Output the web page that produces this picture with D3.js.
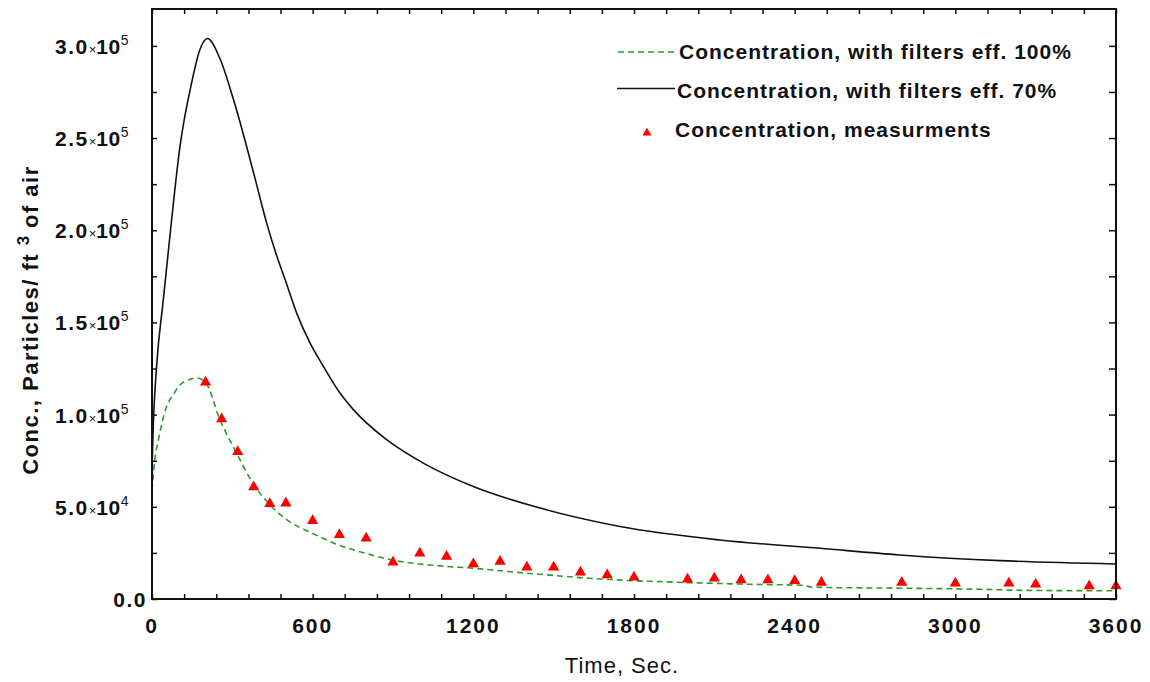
<!DOCTYPE html>
<html>
<head>
<meta charset="utf-8">
<script src="https://cdn.jsdelivr.net/npm/d3@7"></script>
<style>
  body { margin: 0; background: #fff; }
  svg { display: block; }
  text { font-family: "Liberation Sans", Arial, sans-serif; fill: #111; }
</style>
</head>
<body>
<svg id="svg" width="1150" height="682"></svg>
<script>
// Data ==================================================================
// measurements (red triangles)
var measTime = [200, 260, 320, 380, 440, 500, 600, 700, 800, 900, 1000, 1100, 1200, 1300, 1400,
                1500, 1600, 1700, 1800, 2000, 2100, 2200, 2300, 2400, 2500, 2800, 3000, 3200, 3300, 3500, 3600];
var measConc = [117500, 97600, 79900, 60700, 51600, 52000, 42400, 34800, 33000, 19900, 24800, 23000, 19000, 20300, 17200,
                17200, 14500, 13000, 11800, 10700, 11200, 10300, 10300, 9900, 8900, 8900, 8500, 8500, 8000, 7100, 7100];

// model, filters eff. 100% (green dashed)
var effTime100 = [0, 10, 24, 40, 55, 80, 105, 135, 167, 200, 254, 316, 378, 441, 503, 598, 697, 797, 896, 1000,
                  1100, 1198, 1300, 1400, 1500, 1598, 1700, 1797, 1900, 1997, 2100, 2196, 2300, 2395, 2440, 2460,
                  2843, 3092, 3300, 3600];
var effConc100 = [59000, 75000, 86400, 97000, 104500, 111000, 116200, 118800, 119900, 117500, 97200, 79100, 62500, 51000, 43000, 35700, 29300, 24800, 21200, 19000,
                  17700, 16700, 15300, 14000, 12800, 11600, 10700, 9900, 9400, 8900, 8500, 8100, 7800, 7600, 7400, 6400,
                  5800, 5300, 4600, 4500];

// model, filters eff. 70% (black solid)
var effTime70 = [0, 5, 17, 42, 67, 105, 148, 179, 207, 254, 304, 385, 428, 466, 497, 540, 590, 640, 702, 752,
                 876, 1013, 1200, 1449, 1748, 2121, 2495, 2793, 3167, 3600];
var effConc70 = [70000, 95000, 126000, 162000, 197000, 246000, 280000, 298000, 304000, 293000, 271000, 228000, 204000, 186000, 173300, 155200, 138900, 126200, 111700, 102700,
                 86400, 73700, 61000, 49300, 39300, 32000, 27500, 23900, 20800, 19000];

var xTicks = [0, 600, 1200, 1800, 2400, 3000, 3600];
var yTicks = [0, 50000, 100000, 150000, 200000, 250000, 300000];
var yTickLabels = [["0.0", ""], ["5.0", "4"], ["1.0", "5"], ["1.5", "5"], ["2.0", "5"], ["2.5", "5"], ["3.0", "5"]];

var legendNames = ["Concentration, with filters eff. 100%",
                   "Concentration, with filters eff. 70%",
                   "Concentration, measurments"];

// Layout ================================================================
var padL = 152, padR = 1116, padT = 9, padB = 599;

var svg = d3.select("#svg");

var xScale = d3.scaleLinear().domain([0, 3600]).range([padL, padR]);
var yScale = d3.scaleLinear().domain([0, 320000]).range([padB, padT]);

function pairs(ts, vs) {
    var out = [];
    for (var i = 0; i < ts.length; i++) {
        out.push({ x: ts[i], y: vs[i] });
    }
    return out;
}

var line = d3.line()
    .x(function(d) { return xScale(d.x); })
    .y(function(d) { return yScale(d.y); })
    .curve(d3.curveMonotoneX);

// Curves ================================================================
svg.append("path")
    .attr("d", line(pairs(effTime70, effConc70)))
    .attr("fill", "none")
    .attr("stroke", "#111")
    .attr("stroke-width", 1.6);

svg.append("path")
    .attr("d", line(pairs(effTime100, effConc100)))
    .attr("fill", "none")
    .attr("stroke", "#2a9a2a")
    .attr("stroke-width", 1.6)
    .attr("stroke-dasharray", "6,4");

var tri = d3.symbol().type(d3.symbolTriangle).size(55);
svg.selectAll("path.meas")
    .data(pairs(measTime, measConc))
    .enter()
    .append("path")
    .attr("class", "meas")
    .attr("d", tri)
    .attr("fill", "#ff0000")
    .attr("transform", function(d) { return "translate(" + xScale(d.x) + "," + yScale(d.y) + ")"; });

// Axes (ticks on all four sides, pointing in) ===========================
var xMinor = d3.range(0, 3601, 120);
var yMinor = d3.range(0, 320001, 25000);

var xAxisB = d3.axisBottom(xScale).tickValues(xMinor).tickSize(-5).tickFormat("");
var xAxisT = d3.axisTop(xScale).tickValues(xMinor).tickSize(-5).tickFormat("");
var yAxisL = d3.axisLeft(yScale).tickValues(yMinor).tickSize(-5).tickFormat("");
var yAxisR = d3.axisRight(yScale).tickValues(yMinor).tickSize(-7).tickFormat("");

svg.append("g").attr("transform", "translate(0," + padB + ")").call(xAxisB);
svg.append("g").attr("transform", "translate(0," + padT + ")").call(xAxisT);
svg.append("g").attr("transform", "translate(" + padL + ",0)").call(yAxisL);
svg.append("g").attr("transform", "translate(" + padR + ",0)").call(yAxisR);

svg.selectAll(".domain").remove();
svg.selectAll(".tick line").attr("stroke", "#111").attr("stroke-width", 1.5);

// frame
svg.append("rect")
    .attr("x", padL).attr("y", padT)
    .attr("width", padR - padL).attr("height", padB - padT)
    .attr("fill", "none")
    .attr("stroke", "#111")
    .attr("stroke-width", 2);

// Tick labels ===========================================================
svg.selectAll("text.xt")
    .data(xTicks)
    .enter()
    .append("text")
    .attr("class", "xt")
    .attr("x", function(d) { return xScale(d); })
    .attr("y", padB + 34)
    .attr("text-anchor", "middle")
    .style("font-size", "21px")
    .style("font-weight", "bold")
    .style("letter-spacing", "2px")
    .text(function(d) { return d; });

yTicks.forEach(function(v, i) {
    var lab = yTickLabels[i];
    var t = svg.append("text")
        .attr("y", yScale(v) + 8)
        .style("font-size", "21px")
        .style("font-weight", "bold")
        .style("letter-spacing", "1.5px");
    if (lab[1] === "") {
        t.attr("x", 147).attr("text-anchor", "end").text(lab[0]);
        return;
    }
    t.attr("x", 55);
    t.append("tspan").text(lab[0]);
    t.append("tspan").style("font-size", "13px").style("font-weight", "normal").style("letter-spacing", "0px").text("\u00d7");
    t.append("tspan").style("letter-spacing", "0.5px").text("10");
    t.append("tspan").attr("dy", -9).style("font-size", "14px").style("font-weight", "normal").text(lab[1]);
});

// Axis titles ===========================================================
svg.append("text")
    .attr("x", 622)
    .attr("y", 673)
    .attr("text-anchor", "middle")
    .style("font-size", "22px")
    .style("letter-spacing", "1px")
    .text("Time, Sec.");

var yt = svg.append("text")
    .attr("transform", "translate(38,320) rotate(-90)")
    .attr("text-anchor", "middle")
    .style("font-size", "22px")
    .style("font-weight", "bold")
    .style("letter-spacing", "1.5px");
yt.append("tspan").text("Conc., Particles/ ft ");
yt.append("tspan").attr("dy", -9).style("font-size", "17px").text(" 3 ");
yt.append("tspan").attr("dy", 9).text(" of air");

// Legend ================================================================
svg.append("line")
    .attr("x1", 618).attr("x2", 675).attr("y1", 52).attr("y2", 52)
    .attr("stroke", "#2a9a2a").attr("stroke-width", 1.6).attr("stroke-dasharray", "6,4");
svg.append("line")
    .attr("x1", 617).attr("x2", 675).attr("y1", 88.5).attr("y2", 88.5)
    .attr("stroke", "#111").attr("stroke-width", 1.6);
svg.append("path")
    .attr("d", d3.symbol().type(d3.symbolTriangle).size(35))
    .attr("fill", "#ff0000")
    .attr("transform", "translate(647,133)");

var legX = [679, 677, 675];
var legY = [59, 98, 137];
legendNames.forEach(function(n, i) {
    svg.append("text")
        .attr("x", legX[i])
        .attr("y", legY[i])
        .style("font-size", "21px")
        .style("font-weight", "bold")
        .style("letter-spacing", "1px")
        .text(n);
});
</script>
</body>
</html>
